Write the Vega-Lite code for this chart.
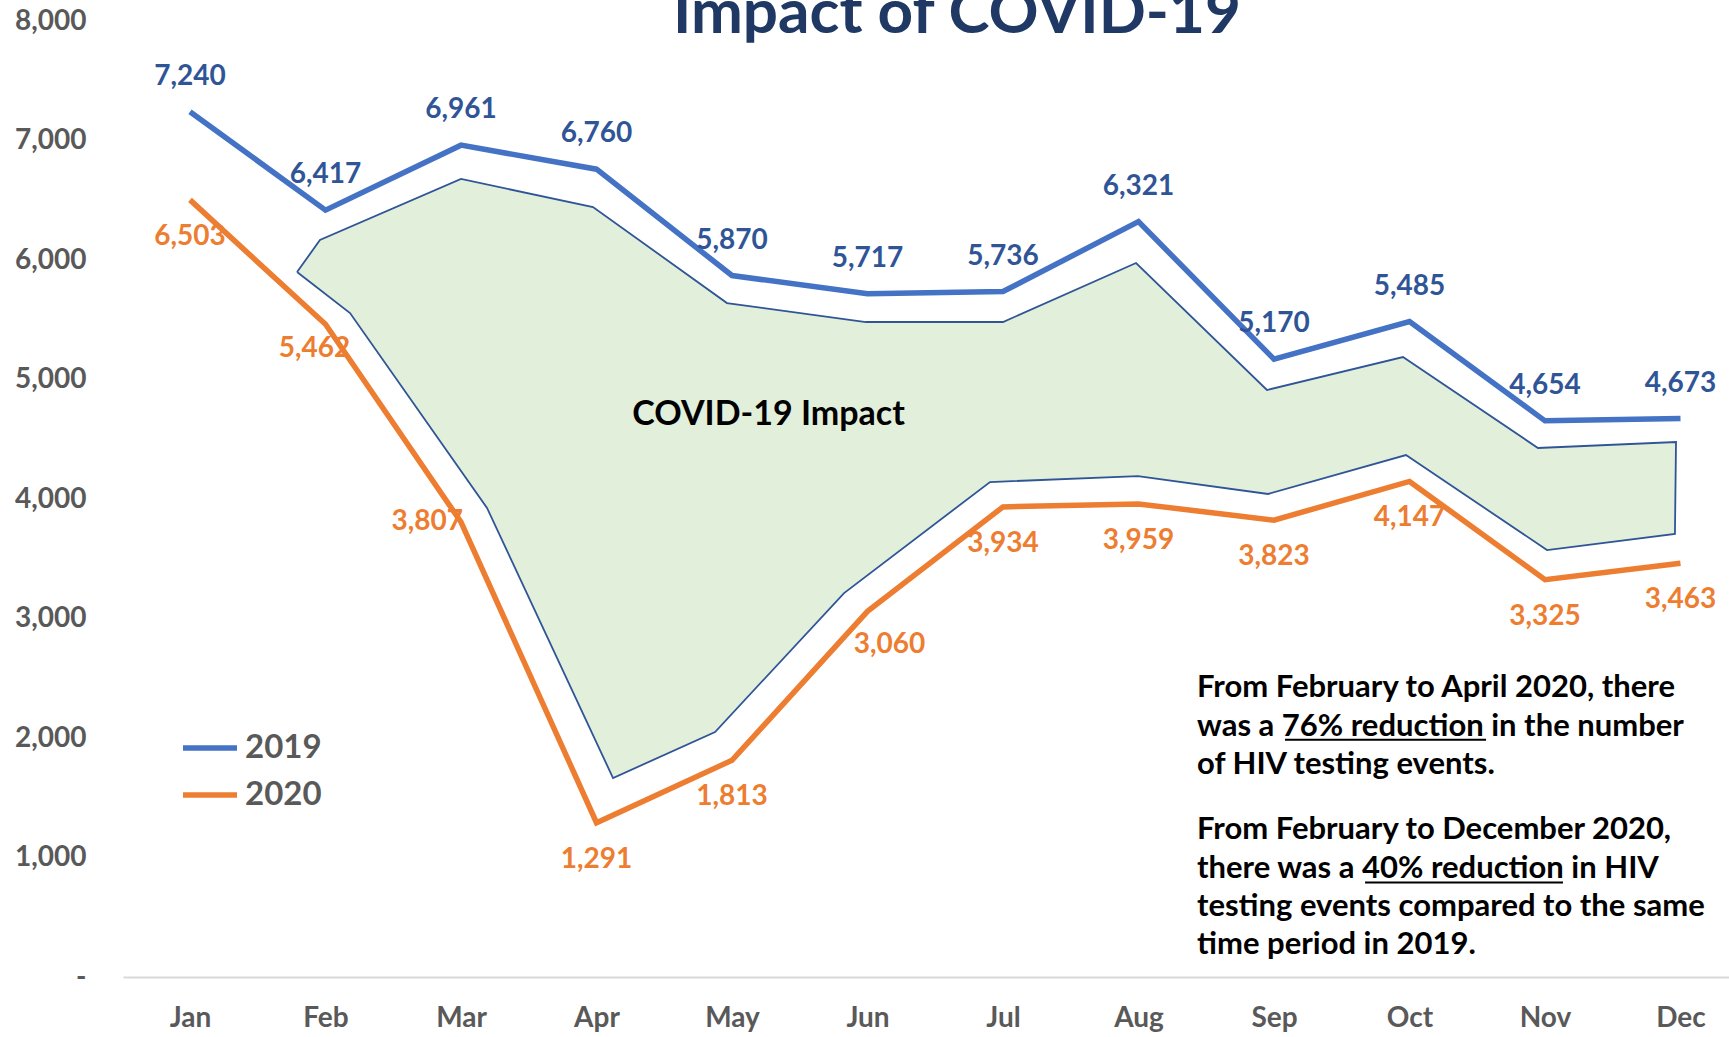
{
  "$schema": "https://vega.github.io/schema/vega-lite/v6.json",
  "width": 1606,
  "height": 956,
  "autosize": {"type": "none"},
  "padding": {"left": 123, "top": 21, "right": 0, "bottom": 60},
  "background": "white",
  "config": {"font": "Lato", "view": {"stroke": null}},
  "datasets": {
    "tests": [
      {"m": 1, "year": "2019", "value": 7240},
      {"m": 2, "year": "2019", "value": 6417},
      {"m": 3, "year": "2019", "value": 6961},
      {"m": 4, "year": "2019", "value": 6760},
      {"m": 5, "year": "2019", "value": 5870},
      {"m": 6, "year": "2019", "value": 5717},
      {"m": 7, "year": "2019", "value": 5736},
      {"m": 8, "year": "2019", "value": 6321},
      {"m": 9, "year": "2019", "value": 5170},
      {"m": 10, "year": "2019", "value": 5485},
      {"m": 11, "year": "2019", "value": 4654},
      {"m": 12, "year": "2019", "value": 4673},
      {"m": 1, "year": "2020", "value": 6503},
      {"m": 2, "year": "2020", "value": 5462},
      {"m": 3, "year": "2020", "value": 3807},
      {"m": 4, "year": "2020", "value": 1291},
      {"m": 5, "year": "2020", "value": 1813},
      {"m": 6, "year": "2020", "value": 3060},
      {"m": 7, "year": "2020", "value": 3934},
      {"m": 8, "year": "2020", "value": 3959},
      {"m": 9, "year": "2020", "value": 3823},
      {"m": 10, "year": "2020", "value": 4147},
      {"m": 11, "year": "2020", "value": 3325},
      {"m": 12, "year": "2020", "value": 3463}
    ],
    "impact": [
      {"i": 1, "x": 1.790, "y": 5899},
      {"i": 2, "x": 1.959, "y": 6167},
      {"i": 3, "x": 3.000, "y": 6678},
      {"i": 4, "x": 3.974, "y": 6443},
      {"i": 5, "x": 4.963, "y": 5640},
      {"i": 6, "x": 5.989, "y": 5481},
      {"i": 7, "x": 7.000, "y": 5481},
      {"i": 8, "x": 7.982, "y": 5975},
      {"i": 9, "x": 8.948, "y": 4912},
      {"i": 10, "x": 9.952, "y": 5188},
      {"i": 11, "x": 10.948, "y": 4427},
      {"i": 12, "x": 11.967, "y": 4477},
      {"i": 13, "x": 11.959, "y": 3707},
      {"i": 14, "x": 11.015, "y": 3573},
      {"i": 15, "x": 9.974, "y": 4368},
      {"i": 16, "x": 8.956, "y": 4042},
      {"i": 17, "x": 7.996, "y": 4192},
      {"i": 18, "x": 6.904, "y": 4142},
      {"i": 19, "x": 5.827, "y": 3213},
      {"i": 20, "x": 4.875, "y": 2050},
      {"i": 21, "x": 4.122, "y": 1665},
      {"i": 22, "x": 3.192, "y": 3925},
      {"i": 23, "x": 2.181, "y": 5556},
      {"i": 24, "x": 1.790, "y": 5899}
    ],
    "notes": [
      {"x": 8.432, "y": 2418, "t": "From February to April 2020, there"},
      {"x": 8.432, "y": 2092, "t": "was a 76% reduction in the number"},
      {"x": 8.432, "y": 1774, "t": "of HIV testing events."},
      {"x": 8.432, "y": 1230, "t": "From February to December 2020,"},
      {"x": 8.432, "y": 904, "t": "there was a 40% reduction in HIV"},
      {"x": 8.432, "y": 586, "t": "testing events compared to the same"},
      {"x": 8.432, "y": 268, "t": "time period in 2019."}
    ],
    "underlines": [
      {"x": 9.081, "x2": 10.565, "y": 1985},
      {"x": 9.672, "x2": 11.133, "y": 790}
    ]
  },
  "layer": [
    {
      "data": {"name": "impact"},
      "mark": {"type": "line", "fill": "#E2EFDA", "stroke": "#2F5597", "strokeWidth": 1.8, "strokeJoin": "miter"},
      "encoding": {
        "x": {"field": "x", "type": "quantitative", "scale": {"domain": [0.5055, 12.358], "nice": false, "zero": false},
          "axis": {"values": [1,2,3,4,5,6,7,8,9,10,11,12], "labelExpr": "['Jan','Feb','Mar','Apr','May','Jun','Jul','Aug','Sep','Oct','Nov','Dec'][datum.value-1]", "title": null, "ticks": false, "tickSize": 0, "grid": false, "domainColor": "#D9D9D9", "domainWidth": 2, "labelFontSize": 28, "labelFont": "Lato", "labelFontWeight": "bold", "labelColor": "#595959", "labelPadding": 41, "labelBaseline": "middle", "labelFlush": false}},
        "y": {"field": "y", "type": "quantitative", "scale": {"domain": [0, 8000], "nice": false},
          "axis": {"values": [0,1000,2000,3000,4000,5000,6000,7000,8000], "labelExpr": "datum.value === 0 ? '-\u00a0\u00a0\u00a0' : format(datum.value, ',')", "title": null, "ticks": false, "tickSize": 0, "grid": false, "domain": false, "labelFontSize": 28, "labelFont": "Lato", "labelFontWeight": "bold", "labelColor": "#595959", "labelPadding": 37}},
        "order": {"field": "i", "type": "quantitative"}
      }
    },
    {
      "data": {"name": "tests"},
      "mark": {"type": "line", "strokeWidth": 5.5, "strokeJoin": "miter", "strokeCap": "butt"},
      "encoding": {
        "x": {"field": "m", "type": "quantitative"},
        "y": {"field": "value", "type": "quantitative"},
        "color": {"field": "year", "type": "nominal",
          "scale": {"domain": ["2019", "2020"], "range": ["#4472C4", "#ED7D31"]},
          "legend": {"title": null, "orient": "none", "legendX": 57, "legendY": 697, "padding": 0, "symbolType": "stroke", "symbolSize": 2916, "symbolStrokeWidth": 5.5, "labelFontSize": 33, "labelFont": "Lato", "labelFontWeight": "bold", "labelColor": "#595959", "labelOffset": 5, "rowPadding": -6}}
      }
    },
    {
      "data": {"name": "tests"},
      "transform": [{"filter": "datum.year === '2019'"}],
      "mark": {"type": "text", "fontSize": 28, "fontWeight": "bold", "color": "#2F5597", "dy": -35, "baseline": "middle"},
      "encoding": {
        "x": {"field": "m", "type": "quantitative"},
        "y": {"field": "value", "type": "quantitative"},
        "text": {"field": "value", "type": "quantitative", "format": ","}
      }
    },
    {
      "data": {"name": "tests"},
      "transform": [{"filter": "datum.year === '2020' && datum.m !== 3 && datum.m !== 2 && datum.m !== 6"}],
      "mark": {"type": "text", "fontSize": 28, "fontWeight": "bold", "color": "#ED7D31", "dy": 37, "baseline": "middle"},
      "encoding": {
        "x": {"field": "m", "type": "quantitative"},
        "y": {"field": "value", "type": "quantitative"},
        "text": {"field": "value", "type": "quantitative", "format": ","}
      }
    },
    {
      "data": {"name": "tests"},
      "transform": [{"filter": "datum.year === '2020' && datum.m === 2"}],
      "mark": {"type": "text", "fontSize": 28, "fontWeight": "bold", "color": "#ED7D31", "dx": -11, "dy": 25, "baseline": "middle"},
      "encoding": {
        "x": {"field": "m", "type": "quantitative"},
        "y": {"field": "value", "type": "quantitative"},
        "text": {"field": "value", "type": "quantitative", "format": ","}
      }
    },
    {
      "data": {"name": "tests"},
      "transform": [{"filter": "datum.year === '2020' && datum.m === 6"}],
      "mark": {"type": "text", "fontSize": 28, "fontWeight": "bold", "color": "#ED7D31", "dx": 22, "dy": 34, "baseline": "middle"},
      "encoding": {
        "x": {"field": "m", "type": "quantitative"},
        "y": {"field": "value", "type": "quantitative"},
        "text": {"field": "value", "type": "quantitative", "format": ","}
      }
    },
    {
      "data": {"name": "tests"},
      "transform": [{"filter": "datum.year === '2020' && datum.m === 3"}],
      "mark": {"type": "text", "fontSize": 28, "fontWeight": "bold", "color": "#ED7D31", "align": "right", "dx": 2, "baseline": "middle"},
      "encoding": {
        "x": {"field": "m", "type": "quantitative"},
        "y": {"field": "value", "type": "quantitative"},
        "text": {"field": "value", "type": "quantitative", "format": ","}
      }
    },
    {
      "data": {"values": [{"x": 5.27, "y": 4706, "t": "COVID-19 Impact"}]},
      "mark": {"type": "text", "fontSize": 34, "fontWeight": "bold", "color": "#000000", "baseline": "middle", "align": "center"},
      "encoding": {
        "x": {"field": "x", "type": "quantitative"},
        "y": {"field": "y", "type": "quantitative"},
        "text": {"field": "t"}
      }
    },
    {
      "data": {"values": [{"x": 6.66, "y": 7900, "t": "Impact of COVID-19"}]},
      "mark": {"type": "text", "fontSize": 62, "fontWeight": "bold", "color": "#1F3864", "baseline": "alphabetic", "align": "center"},
      "encoding": {
        "x": {"field": "x", "type": "quantitative"},
        "y": {"field": "y", "type": "quantitative"},
        "text": {"field": "t"}
      }
    },
    {
      "data": {"name": "notes"},
      "mark": {"type": "text", "fontSize": 31, "fontWeight": "bold", "color": "#000000", "baseline": "middle", "align": "left"},
      "encoding": {
        "x": {"field": "x", "type": "quantitative"},
        "y": {"field": "y", "type": "quantitative"},
        "text": {"field": "t"}
      }
    },
    {
      "data": {"name": "underlines"},
      "mark": {"type": "rule", "color": "#000000", "strokeWidth": 2},
      "encoding": {
        "x": {"field": "x", "type": "quantitative"},
        "x2": {"field": "x2"},
        "y": {"field": "y", "type": "quantitative"}
      }
    }
  ]
}
